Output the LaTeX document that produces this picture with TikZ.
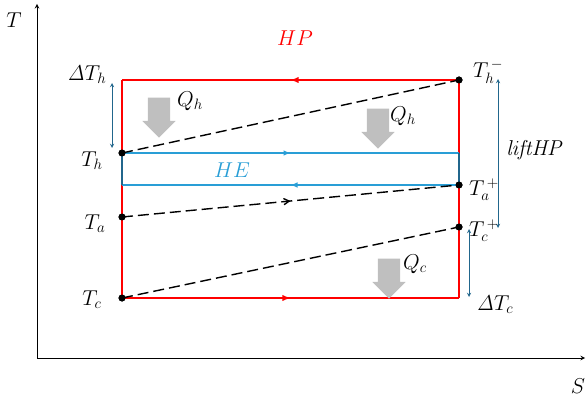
\RequirePackage{fix-cm}
\documentclass[tikz,border=0pt]{standalone}
\usepackage{amsmath}
\usepackage{tikz}
\usetikzlibrary{arrows,shapes.arrows,decorations.markings,positioning}
\definecolor{hpred}{rgb}{1,0,0}
\definecolor{heblue}{rgb}{0.16,0.62,0.84}
\definecolor{deltateal}{rgb}{0.13,0.40,0.55}
\definecolor{qgray}{rgb}{0.75,0.75,0.75}
\tikzset{
	statedot/.style={
		circle, fill=black, inner sep=0pt, minimum size=7pt
	},
	heatflow/.style={
		single arrow, fill=qgray, draw=none, rotate=-90,
		minimum height=40pt, inner xsep=0pt, inner ysep=11pt,
		single arrow head extend=5.5pt, single arrow tip angle=90
	},
	midarrow/.style={
		postaction={decorate},
		decoration={markings, mark=at position 0.5 with {\arrow{#1}}}
	},
}

\begin{document}
\begin{tikzpicture}[
		x=1pt, y=-1pt,
		lbl/.style={font=\fontsize{21.5}{24}\selectfont, inner sep=1pt},
		cycle/.style={hpred, line width=1.8pt},
		exch/.style={heblue, line width=1.4pt},
		dashline/.style={black, line width=1.4pt, dash pattern=on 11pt off 5pt},
		span/.style={deltateal, line width=0.9pt, stealth-stealth}
		]
		\useasboundingbox (0,0) rectangle (587,401);
		
		% axes
		\coordinate (O) at (37,358);
		\coordinate (Ttop) at (37,4);
		\coordinate (Send) at (585,358);
		\draw[line width=1pt,-stealth] (O) -- (Ttop);
		\draw[line width=1pt,-stealth] (O) -- (Send);
		\node[lbl] (Tax) at (14,20) {$T$};
		\node[lbl] (Sax) at (578,386) {$S$};
		
		% state points
		\coordinate (hpTL) at (122,80);
		\coordinate (hpBR) at (459,298);
		\coordinate (heTR) at (459,153);
		\coordinate (heBL) at (122,185);
		\node[statedot] (Th)  at (122,153) {};
		\node[statedot] (Thm) at (459,80)  {};
		\node[statedot] (Ta)  at (122,217) {};
		\node[statedot] (Tap) at (459,185) {};
		\node[statedot] (Tc)  at (122,298) {};
		\node[statedot] (Tcp) at (459,227) {};
		
		% heat pump cycle
		\draw[cycle, midarrow={latex}] (Thm.center) -- (hpTL);
		\draw[cycle] (hpTL) -- (Tc.center);
		\draw[cycle, midarrow={latex}] (Tc.center) -- (hpBR);
		\draw[cycle] (hpBR) -- (Tap.center);
		\draw[cycle] (heTR) -- (Thm.center);
		
		% heat exchanger
		\draw[exch, midarrow={latex}] (Th.center) -- (heTR);
		\draw[exch, midarrow={latex}] (Tap.center) -- (heBL);
		\draw[deltateal, line width=1.4pt] (Th.center) -- (heBL);
		\draw[deltateal, line width=1.4pt] (heTR) -- (Tap.center);
		
		% dashed lines
		\draw[dashline] (Th.center) -- (Thm.center);
		\draw[dashline, midarrow={angle 60}] (Ta.center) -- (Tap.center);
		\draw[dashline] (Tc.center) -- (Tcp.center);
		\foreach \p in {Th,Thm,Ta,Tap,Tc,Tcp}
			\node[statedot] at (\p) {};
		
		% heat flows
		\node[heatflow] (Qh1) at (159,112) {};
		\node[heatflow] (Qh2) at (378,123) {};
		\node[heatflow] (Qc)  at (389,273) {};
		\node[lbl] at (190,101) {$Q_h$};
		\node[lbl] at (403,116) {$Q_h$};
		\node[lbl] at (415,264) {$Q_c$};
		
		% temperature spans
		\coordinate (dThTop) at (112,83);
		\coordinate (dThBot) at (112,148);
		\coordinate (liftTop) at (498,79);
		\coordinate (liftBot) at (498,228);
		\coordinate (dTcTop) at (469,229);
		\coordinate (dTcBot) at (469,297);
		\draw[span] (dThTop) -- (dThBot);
		\draw[span] (liftTop) -- (liftBot);
		\draw[span] (dTcTop) -- (dTcBot);
		
		% labels
		\node[lbl, text=hpred] (HP) at (295,38) {$HP$};
		\node[lbl, text=heblue] (HE) at (232,170) {$HE$};
		\node[lbl] at (87,75) {$\mathit{\Delta} T_h$};
		\node[lbl] at (535,150) {$\mathit{liftHP}$};
		\node[lbl] at (495,305) {$\mathit{\Delta} T_c$};
		\node[lbl] at (92,161) {$T_h$};
		\node[lbl] at (95,224) {$T_a$};
		\node[lbl] at (92,300) {$T_c$};
		\node[lbl] at (488,72) {$T_h^{\,-}$};
		\node[lbl] at (484,190) {$T_a^{\,+}$};
		\node[lbl] at (484,231) {$T_c^{\,+}$};
	\end{tikzpicture}
\end{document}
